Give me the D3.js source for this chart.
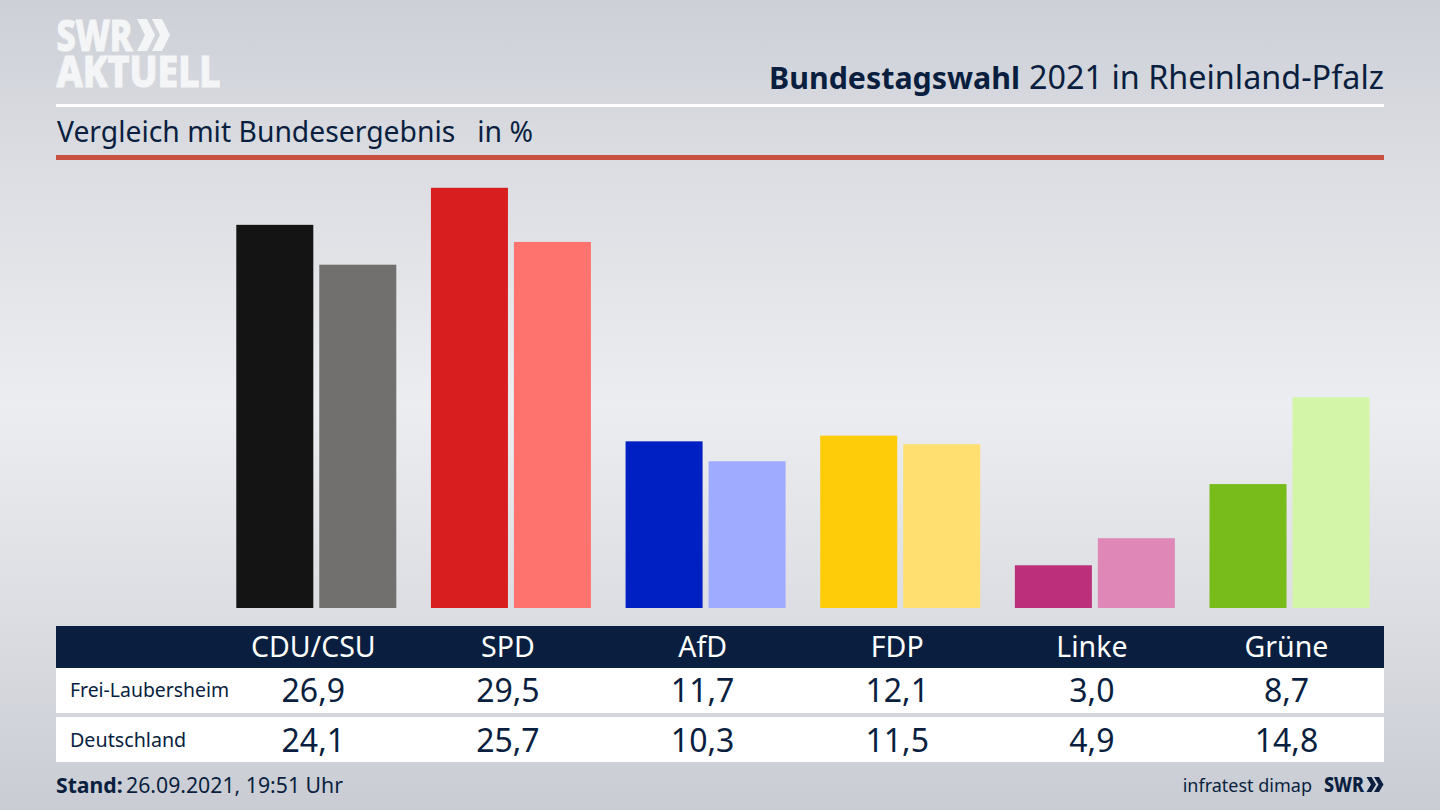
<!DOCTYPE html>
<html><head><meta charset="utf-8">
<script src="https://cdnjs.cloudflare.com/ajax/libs/d3/7.8.5/d3.min.js"></script>
<style>html,body{margin:0;padding:0;background:#d0d3d9;overflow:hidden}svg{display:block}text{font-family:"Noto Sans",sans-serif}</style>
</head><body><div id="chart"></div>
<script>
const categories=["CDU/CSU","SPD","AfD","FDP","Linke","Grüne"];
const seriesNames=["Frei-Laubersheim","Deutschland"];
const freiLaubersheim=[26.9,29.5,11.7,12.1,3.0,8.7];
const deutschland=[24.1,25.7,10.3,11.5,4.9,14.8];
const colorsFrei=["#141414","#d81e1e","#0020c4","#ffcc0a","#bc2f7a","#78bc1c"];
const colorsDeutschland=["#72706e","#ff736e","#9fabff","#ffdf70","#df88b8","#d3f5a8"];
const fmt=v=>v.toFixed(1).replace(".",",");
const navy="#0a1f3f";
const W=1440,H=810;
const svg=d3.select("#chart").append("svg").attr("width",W).attr("height",H);
const defs=svg.append("defs");
const g=defs.append("linearGradient").attr("id","bg").attr("x1",0).attr("x2",0).attr("y1",0).attr("y2",1);
[[0,"#cdd0d7"],[.22,"#dcdee3"],[.5,"#ecedf0"],[.75,"#dcdee3"],[1,"#c9ccd3"]].forEach(([o,c])=>g.append("stop").attr("offset",o).attr("stop-color",c));
svg.append("rect").attr("width",W).attr("height",H).attr("fill","url(#bg)");

// logo
const logo=svg.append("g").attr("fill","#f4f5f7").attr("stroke","#f4f5f7");
logo.append("text").attr("x",56.5).attr("y",50.5).attr("font-size",43).attr("font-weight",800).attr("stroke-width",1.2).attr("textLength",76).attr("lengthAdjust","spacingAndGlyphs").text("SWR");
logo.append("text").attr("x",56.5).attr("y",86.5).attr("font-size",42).attr("font-weight",800).attr("stroke-width",1.2).attr("textLength",164).attr("lengthAdjust","spacingAndGlyphs").text("AKTUELL");
const chev=(x,y,w,h,t)=>`M${x},${y}h${t}l${w-t},${h/2}l${-(w-t)},${h/2}h${-t}l${w-t},${-h/2}z`;
logo.append("path").attr("stroke","none").attr("d",chev(137,19,18,32,10));
logo.append("path").attr("stroke","none").attr("d",chev(152,19,18,32,10));
const chev2=svg.append("g").attr("fill",navy);
chev2.append("path").attr("d",chev(1366.5,777,9.5,15,5));
chev2.append("path").attr("d",chev(1374,777,9.5,15,5));

// header
svg.append("text").attr("x",769).attr("y",89).attr("font-size",31).attr("font-weight",700).attr("fill",navy).attr("textLength",251).attr("lengthAdjust","spacingAndGlyphs").text("Bundestagswahl");
svg.append("text").attr("x",1029).attr("y",89).attr("font-size",32).attr("fill",navy).attr("textLength",355).attr("lengthAdjust","spacingAndGlyphs").text("2021 in Rheinland-Pfalz");
svg.append("rect").attr("x",56).attr("y",104).attr("width",1328).attr("height",3).attr("fill","#fff");
svg.append("text").attr("x",57).attr("y",142).attr("font-size",28.3).attr("fill",navy).style("white-space","pre").text("Vergleich mit Bundesergebnis   in %");
svg.append("rect").attr("x",56).attr("y",155).attr("width",1328).attr("height",5).attr("fill","#c9513f");

// bars
const x0=d3.scaleBand().domain(categories).range([236.3,1369.5]).paddingInner(.178).paddingOuter(0);
const x1=d3.scaleBand().domain(seriesNames).range([0,x0.bandwidth()]).paddingInner(.072).paddingOuter(0);
const y=d3.scaleLinear().domain([0,29.5]).range([608,187.8]);
const bars=svg.append("g");
const addBars=(vals,cols,name)=>bars.selectAll(null).data(categories).enter().append("rect")
  .attr("x",c=>x0(c)+x1(name)).attr("width",x1.bandwidth())
  .attr("y",(c,i)=>y(vals[i])).attr("height",(c,i)=>y(0)-y(vals[i])).attr("fill",(c,i)=>cols[i]);
addBars(freiLaubersheim,colorsFrei,seriesNames[0]);
addBars(deutschland,colorsDeutschland,seriesNames[1]);

// table
const cx=c=>x0(c)+x1(seriesNames[0])+x1.bandwidth();
svg.append("rect").attr("x",56).attr("y",626).attr("width",1328).attr("height",42).attr("fill",navy);
svg.append("rect").attr("x",56).attr("y",668).attr("width",1328).attr("height",45).attr("fill","#fff");
svg.append("rect").attr("x",56).attr("y",717).attr("width",1328).attr("height",45).attr("fill","#fff");
svg.selectAll(null).data(categories).enter().append("text").attr("x",cx).attr("y",657).attr("text-anchor","middle").attr("font-size",28.5).attr("fill","#fff").text(d=>d);
[[freiLaubersheim,702,697,19.4],[deutschland,752,747,19.7]].forEach(([vals,yy,ly,fs],k)=>{
  svg.append("text").attr("x",70).attr("y",ly).attr("font-size",fs).attr("fill",navy).text(seriesNames[k]);
  svg.selectAll(null).data(categories).enter().append("text").attr("x",cx).attr("y",yy).attr("text-anchor","middle").attr("font-size",32).attr("fill",navy).text((c,i)=>fmt(vals[i]));
});

// footer
svg.append("text").attr("x",56).attr("y",793).attr("font-size",21.2).attr("font-weight",700).attr("fill",navy).text("Stand:");
svg.append("text").attr("x",126).attr("y",793).attr("font-size",21).attr("fill",navy).attr("textLength",217).attr("lengthAdjust","spacingAndGlyphs").text("26.09.2021, 19:51 Uhr");
svg.append("text").attr("x",1312).attr("y",792).attr("text-anchor","end").attr("font-size",18).attr("fill",navy).text("infratest dimap");
svg.append("text").attr("x",1324).attr("y",792).attr("font-size",21).attr("font-weight",800).attr("textLength",40).attr("lengthAdjust","spacingAndGlyphs").attr("fill",navy).text("SWR");
</script></body></html>
